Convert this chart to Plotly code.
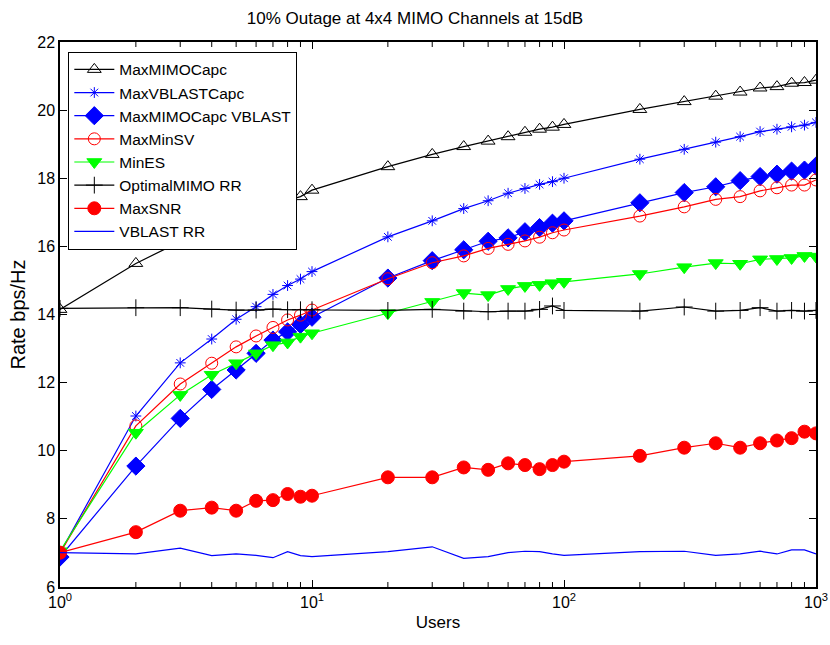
import plotly.graph_objects as go

users = [1, 2, 3, 4, 5, 6, 7, 8, 9, 10, 20, 30, 40, 50, 60, 70, 80, 90, 100,
         200, 300, 400, 500, 600, 700, 800, 900, 1000]

max_mimo_capc = [14.15, 15.50, 16.14, 16.55, 16.85, 17.05, 17.22, 17.35, 17.46, 17.65,
                 18.34, 18.70, 18.93, 19.09, 19.22, 19.35, 19.44, 19.50, 19.58,
                 20.02, 20.25, 20.41, 20.53, 20.65, 20.69, 20.79, 20.81, 20.88]
max_vblast_capc = [7.00, 11.02, 12.58, 13.28, 13.86, 14.23, 14.59, 14.85, 15.04, 15.26,
                   16.28, 16.75, 17.11, 17.34, 17.56, 17.70, 17.82, 17.90, 18.00,
                   18.56, 18.85, 19.06, 19.22, 19.37, 19.44, 19.51, 19.56, 19.64]
max_mimo_capc_vblast = [6.88, 9.55, 10.95, 11.80, 12.37, 12.86, 13.25, 13.49, 13.71, 13.92,
                        15.07, 15.58, 15.90, 16.15, 16.25, 16.43, 16.55, 16.68, 16.75,
                        17.28, 17.58, 17.75, 17.93, 18.05, 18.12, 18.21, 18.24, 18.36]
max_min_sv = [7.00, 10.73, 11.96, 12.57, 13.05, 13.37, 13.62, 13.84, 13.98, 14.13,
              15.05, 15.52, 15.72, 15.94, 16.06, 16.16, 16.27, 16.40, 16.48,
              16.89, 17.16, 17.38, 17.46, 17.63, 17.72, 17.80, 17.80, 17.95]
min_es = [7.05, 10.53, 11.64, 12.23, 12.57, 12.86, 13.10, 13.18, 13.35, 13.45,
          14.04, 14.37, 14.63, 14.57, 14.75, 14.84, 14.87, 14.92, 14.96,
          15.19, 15.39, 15.51, 15.49, 15.62, 15.63, 15.66, 15.72, 15.70]
optimal_mimo_rr = [14.18, 14.20, 14.20, 14.16, 14.13, 14.13, 14.16, 14.14, 14.14, 14.14,
                   14.12, 14.15, 14.10, 14.08, 14.10, 14.10, 14.15, 14.25, 14.12,
                   14.10, 14.22, 14.10, 14.12, 14.20, 14.10, 14.12, 14.10, 14.12]
max_snr = [7.01, 7.61, 8.24, 8.33, 8.24, 8.53, 8.55, 8.73, 8.65, 8.68,
           9.22, 9.22, 9.51, 9.44, 9.63, 9.58, 9.46, 9.58, 9.68,
           9.85, 10.09, 10.22, 10.09, 10.22, 10.30, 10.37, 10.56, 10.51]
vblast_rr = [7.01, 6.97, 7.14, 6.92, 6.97, 6.93, 6.86, 7.04, 6.92, 6.89,
             7.04, 7.18, 6.84, 6.89, 7.01, 7.05, 7.04, 6.97, 6.93,
             7.04, 7.05, 6.93, 6.97, 7.05, 6.97, 7.09, 7.09, 6.97]

# x tick labels (log decades)
x_label_alias = {"1": "10<sup>0</sup>", "10": "10<sup>1</sup>",
                 "100": "10<sup>2</sup>", "1000": "10<sup>3</sup>",
                 "1k": "10<sup>3</sup>"}
x_minor_tickvals = [2, 3, 4, 5, 6, 7, 8, 9, 20, 30, 40, 50, 60, 70, 80, 90,
                    200, 300, 400, 500, 600, 700, 800, 900]
y_tickvals = [6, 8, 10, 12, 14, 16, 18, 20, 22]

BLUE = "#0000ff"
RED = "#ff0000"
GREEN = "#00ff00"
BLACK = "#000000"

series = [
    ("MaxMIMOCapc", max_mimo_capc, BLACK, "triangle-up-open", 12),
    ("MaxVBLASTCapc", max_vblast_capc, BLUE, "asterisk-open", 9),
    ("MaxMIMOCapc VBLAST", max_mimo_capc_vblast, BLUE, "diamond", 14),
    ("MaxMinSV", max_min_sv, RED, "circle-open", 12),
    ("MinES", min_es, GREEN, "triangle-down", 13),
    ("OptimalMIMO RR", optimal_mimo_rr, BLACK, "cross-thin-open", 12),
    ("MaxSNR", max_snr, RED, "circle", 13),
]

fig = go.Figure()
for name, vals, col, sym, size in series:
    fig.add_trace(go.Scatter(
        x=users, y=vals, name=name, mode="lines+markers",
        line=dict(color=col, width=1.2),
        marker=dict(symbol=sym, size=size, color=col, line=dict(color=col, width=1)),
    ))
fig.add_trace(go.Scatter(
    x=users, y=vblast_rr, name="VBLAST RR", mode="lines",
    line=dict(color=BLUE, width=1.2),
))

# minor log ticks (bottom and top, inside), placed through the x scale
tick_frac = 5 / 545
for v in x_minor_tickvals:
    fig.add_shape(type="line", xref="x", yref="paper", x0=v, x1=v, y0=0, y1=tick_frac,
                  line=dict(color="black", width=1), layer="above")
    fig.add_shape(type="line", xref="x", yref="paper", x0=v, x1=v, y0=1 - tick_frac, y1=1,
                  line=dict(color="black", width=1), layer="above")

font = "Liberation Sans, Arial, sans-serif"
fig.update_layout(
    width=830, height=645,
    margin=dict(l=60, r=14, t=42, b=58),
    paper_bgcolor="white", plot_bgcolor="white",
    font=dict(family=font, size=16, color="black"),
    title=dict(text="10% Outage at 4x4 MIMO Channels at 15dB", x=0.5, xanchor="center",
               y=0.972, yanchor="middle", font=dict(size=17, family=font)),
    showlegend=True,
    legend=dict(x=0.011, y=0.982, xanchor="left", yanchor="top",
                bordercolor="black", borderwidth=1, bgcolor="white",
                font=dict(size=15.5, family=font), tracegroupgap=0,
                itemwidth=40),
    xaxis=dict(
        type="log", range=[0, 3], tickmode="linear", tick0=0, dtick=1,
        labelalias=x_label_alias,
        ticks="inside", ticklen=7, tickcolor="black", showline=True, linecolor="black",
        linewidth=1.5, mirror="ticks", showgrid=False, zeroline=False, automargin=False,
        title=dict(text="Users", font=dict(size=17), standoff=6),
        tickfont=dict(size=16),
    ),
    yaxis=dict(
        range=[6, 22], tickvals=y_tickvals,
        ticks="inside", ticklen=7, tickcolor="black", showline=True, linecolor="black",
        linewidth=1.5, mirror="ticks", showgrid=False, zeroline=False, automargin=False,
        title=dict(text="Rate bps/Hz", font=dict(size=20), standoff=6),
        tickfont=dict(size=16),
    ),
)

fig.write_html("out.html",
               config={"displayModeBar": False},
               post_script="document.body.style.margin='0';"
                           "document.body.style.overflow='hidden';")
